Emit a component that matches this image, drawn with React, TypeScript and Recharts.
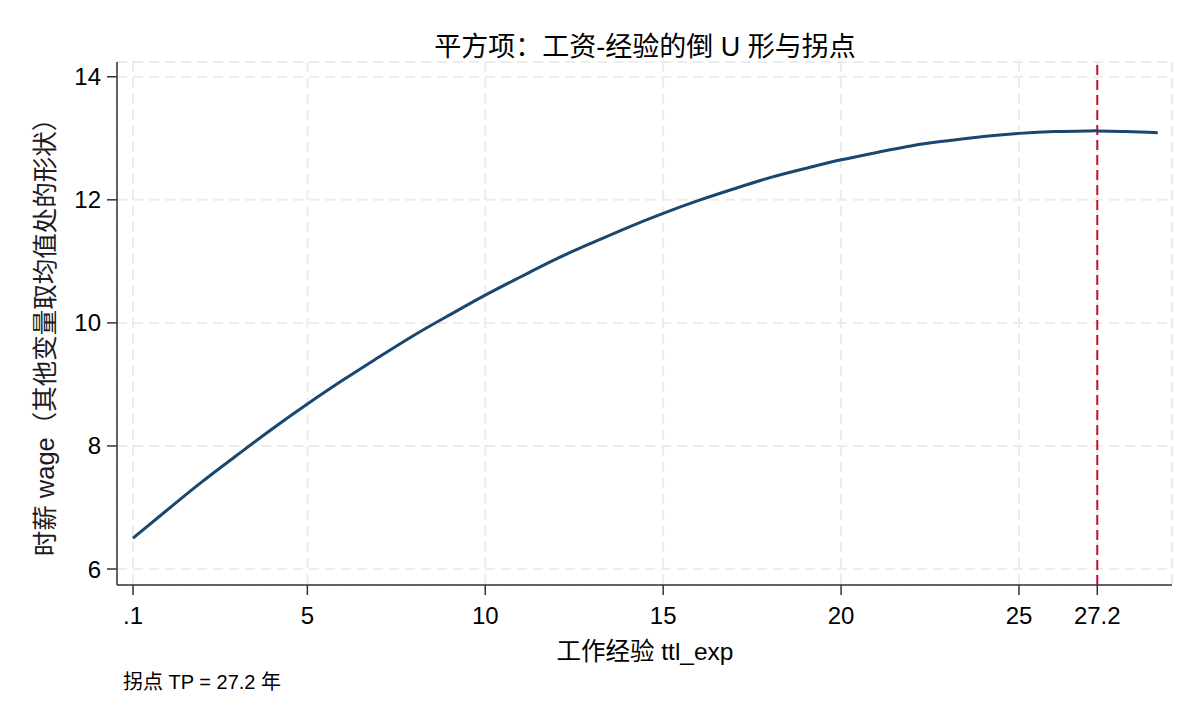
import { LineChart, Line, XAxis, YAxis, CartesianGrid, ReferenceLine } from 'recharts';

// experience (years) and predicted wage
const expYears = [0.1, 1, 2, 3, 4, 5, 6, 7, 8, 9, 10, 11, 12, 13, 14, 15, 16, 17, 18, 19, 20, 21, 22, 23, 24, 25, 26, 27, 27.2, 28, 28.9];
const wageFit = [6.5, 6.93, 7.4, 7.84, 8.27, 8.68, 9.07, 9.44, 9.8, 10.13, 10.45, 10.75, 11.04, 11.3, 11.55, 11.78, 11.99, 12.18, 12.36, 12.51, 12.65, 12.77, 12.88, 12.96, 13.03, 13.08, 13.11, 13.12, 13.12, 13.11, 13.09];

const xTicks = [0.1, 5, 10, 15, 20, 25, 27.2];
const yTicks = [6, 8, 10, 12, 14];
const turningPoint = 27.2;

const FONT = '"Liberation Sans", Arial, "Noto Sans CJK SC", sans-serif';
const AXIS = '#333333';

const data = expYears.map((x, i) => ({ x, wage: wageFit[i] }));

export default function App() {
  return (
    <div style={{ position: 'absolute', left: 0, top: 0, width: 1200, height: 720, background: '#fff', fontFamily: FONT }}>
      <LineChart width={1200} height={720} data={data} margin={{ top: 62, right: 28, left: 0, bottom: 75 }}>
        <CartesianGrid stroke="#ececec" strokeWidth={2} strokeDasharray="10 6" />
        <XAxis
          dataKey="x"
          type="number"
          domain={[-0.35, 29.3]}
          ticks={xTicks}
          tickFormatter={(v) => (v === 0.1 ? '.1' : String(v))}
          height={60}
          stroke={AXIS}
          strokeWidth={1.5}
          tickSize={10}
          tickMargin={12}
          tick={{ fill: '#000', fontSize: 24, fontFamily: FONT }}
          interval={0}
        />
        <YAxis
          type="number"
          domain={[5.74, 14.24]}
          ticks={yTicks}
          width={117}
          stroke={AXIS}
          strokeWidth={1.5}
          tickSize={10}
          tickMargin={6}
          tick={{ fill: '#000', fontSize: 24, fontFamily: FONT }}
          interval={0}
        />
        <ReferenceLine x={turningPoint} stroke="#c8102e" strokeWidth={2} strokeDasharray="10 5" />
        <Line type="natural" dataKey="wage" stroke="#1a476f" strokeWidth={3} dot={false} isAnimationActive={false} />
      </LineChart>
      <svg width={1200} height={720} style={{ position: 'absolute', left: 0, top: 0, pointerEvents: 'none' }}>
        <text x={645} y={56} textAnchor="middle" fontSize={27} fontFamily={FONT} fill="#000">
          平方项：工资-经验的倒 U 形与拐点
        </text>
        <text x={645} y={660} textAnchor="middle" fontSize={24.5} fontFamily={FONT} fill="#000">
          工作经验 ttl_exp
        </text>
        <text x={54} y={331} textAnchor="middle" fontSize={25.5} fontFamily={FONT} fill="#221a22" transform="rotate(-90 54 331)">
          时薪 wage（其他变量取均值处的形状）
        </text>
        <text x={123} y={689} fontSize={20} fontFamily={FONT} fill="#000">
          拐点 TP = 27.2 年
        </text>
      </svg>
    </div>
  );
}
